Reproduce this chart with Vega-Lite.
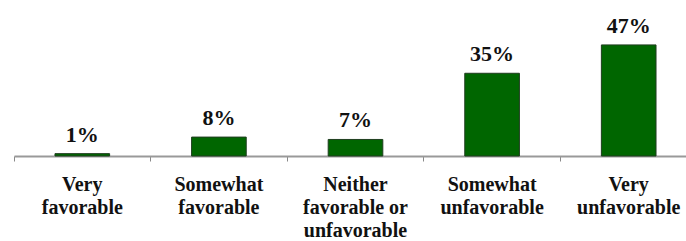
{
  "$schema": "https://vega.github.io/schema/vega-lite/v6.json",
  "width": 672,
  "height": 156,
  "autosize": {"type": "none"},
  "padding": {"left": 14, "top": 0, "right": 0, "bottom": 85},
  "background": "white",
  "config": {"view": {"stroke": null}},
  "data": {
    "values": [
      {"category": "Very favorable", "value": 1, "label": "1%"},
      {"category": "Somewhat favorable", "value": 8, "label": "8%"},
      {"category": "Neither favorable or unfavorable", "value": 7, "label": "7%"},
      {"category": "Somewhat unfavorable", "value": 35, "label": "35%"},
      {"category": "Very unfavorable", "value": 47, "label": "47%"}
    ]
  },
  "encoding": {
    "x": {
      "field": "category",
      "type": "nominal",
      "sort": null,
      "scale": {"range": [0, 683], "paddingInner": 0, "paddingOuter": 0},
      "axis": {
        "title": null,
        "labelAngle": 0,
        "bandPosition": 0,
        "domainColor": "#999999",
        "domainWidth": 2,
        "ticks": true,
        "tickColor": "#888888",
        "tickSize": 5,
        "tickWidth": 1,
        "labelFont": "Liberation Serif",
        "labelFontWeight": "bold",
        "labelFontSize": 20,
        "labelColor": "#111111",
        "labelLineHeight": 23,
        "labelPadding": 13,
        "labelBaseline": "top",
        "labelFlush": false,
        "labelOverlap": false,
        "labelExpr": "datum.value == 'Neither favorable or unfavorable' ? ['Neither', 'favorable or', 'unfavorable'] : split(datum.value, ' ')"
      }
    },
    "y": {
      "field": "value",
      "type": "quantitative",
      "scale": {"domain": [0, 66]},
      "axis": null
    }
  },
  "layer": [
    {
      "mark": {"type": "bar", "width": {"band": 0.4}, "color": "#006600", "stroke": "#1f3d1f", "strokeWidth": 1}
    },
    {
      "mark": {"type": "text", "font": "Liberation Serif", "fontWeight": "bold", "fontSize": 22, "baseline": "alphabetic", "dy": -12, "color": "#111111"},
      "encoding": {"text": {"field": "label", "type": "nominal"}}
    }
  ]
}
